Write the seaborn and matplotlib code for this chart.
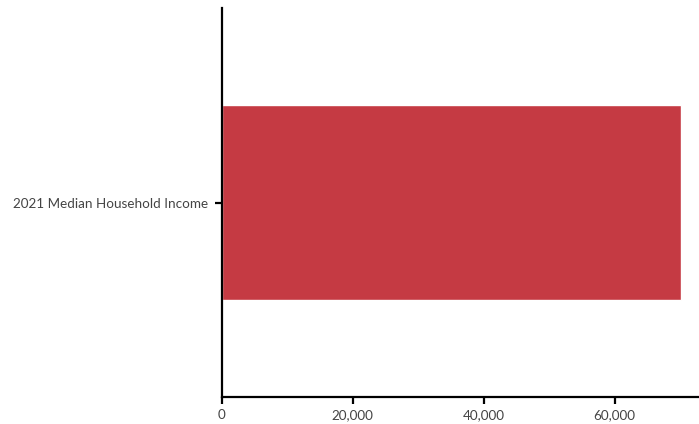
import matplotlib
matplotlib.use("Agg")
import matplotlib.pyplot as plt
import seaborn as sns
import pandas as pd
from matplotlib.ticker import FuncFormatter

categories = ["2021 Median Household Income"]
values = [70100]
xticks = [0, 20000, 40000, 60000]

sns.set_style("white")
plt.rcParams['font.family'] = ['Lato', 'DejaVu Sans']

df = pd.DataFrame({"label": categories, "value": values})

fig = plt.figure(figsize=(6.99, 4.24), dpi=100)
ax = fig.add_axes([0.3172, 0.0637, 1 - 0.3172, 0.981 - 0.0637])
sns.barplot(data=df, x="value", y="label", orient="h", color="#C53A43",
            width=0.5, saturation=1, ax=ax)

ax.set_xlim(0, 72900)
ax.set_ylim(0.5, -0.5)
ax.set_xticks(xticks)
ax.xaxis.set_major_formatter(FuncFormatter(lambda v, p: f"{int(v):,}"))
ax.set_xlabel("")
ax.set_ylabel("")
for s in ["top", "right"]:
    ax.spines[s].set_visible(False)
for s in ["left", "bottom"]:
    ax.spines[s].set_color("black")
    ax.spines[s].set_linewidth(1.6)
ax.tick_params(axis="both", which="both", length=5, width=1.6, color="black",
               labelsize=9.7, labelcolor="#444444", direction="out",
               bottom=True, left=True)
ax.tick_params(axis="y", pad=5)
ax.tick_params(axis="x", pad=4)
ax.set_facecolor("white")

fig.savefig("out.png", dpi=100, facecolor="white")
